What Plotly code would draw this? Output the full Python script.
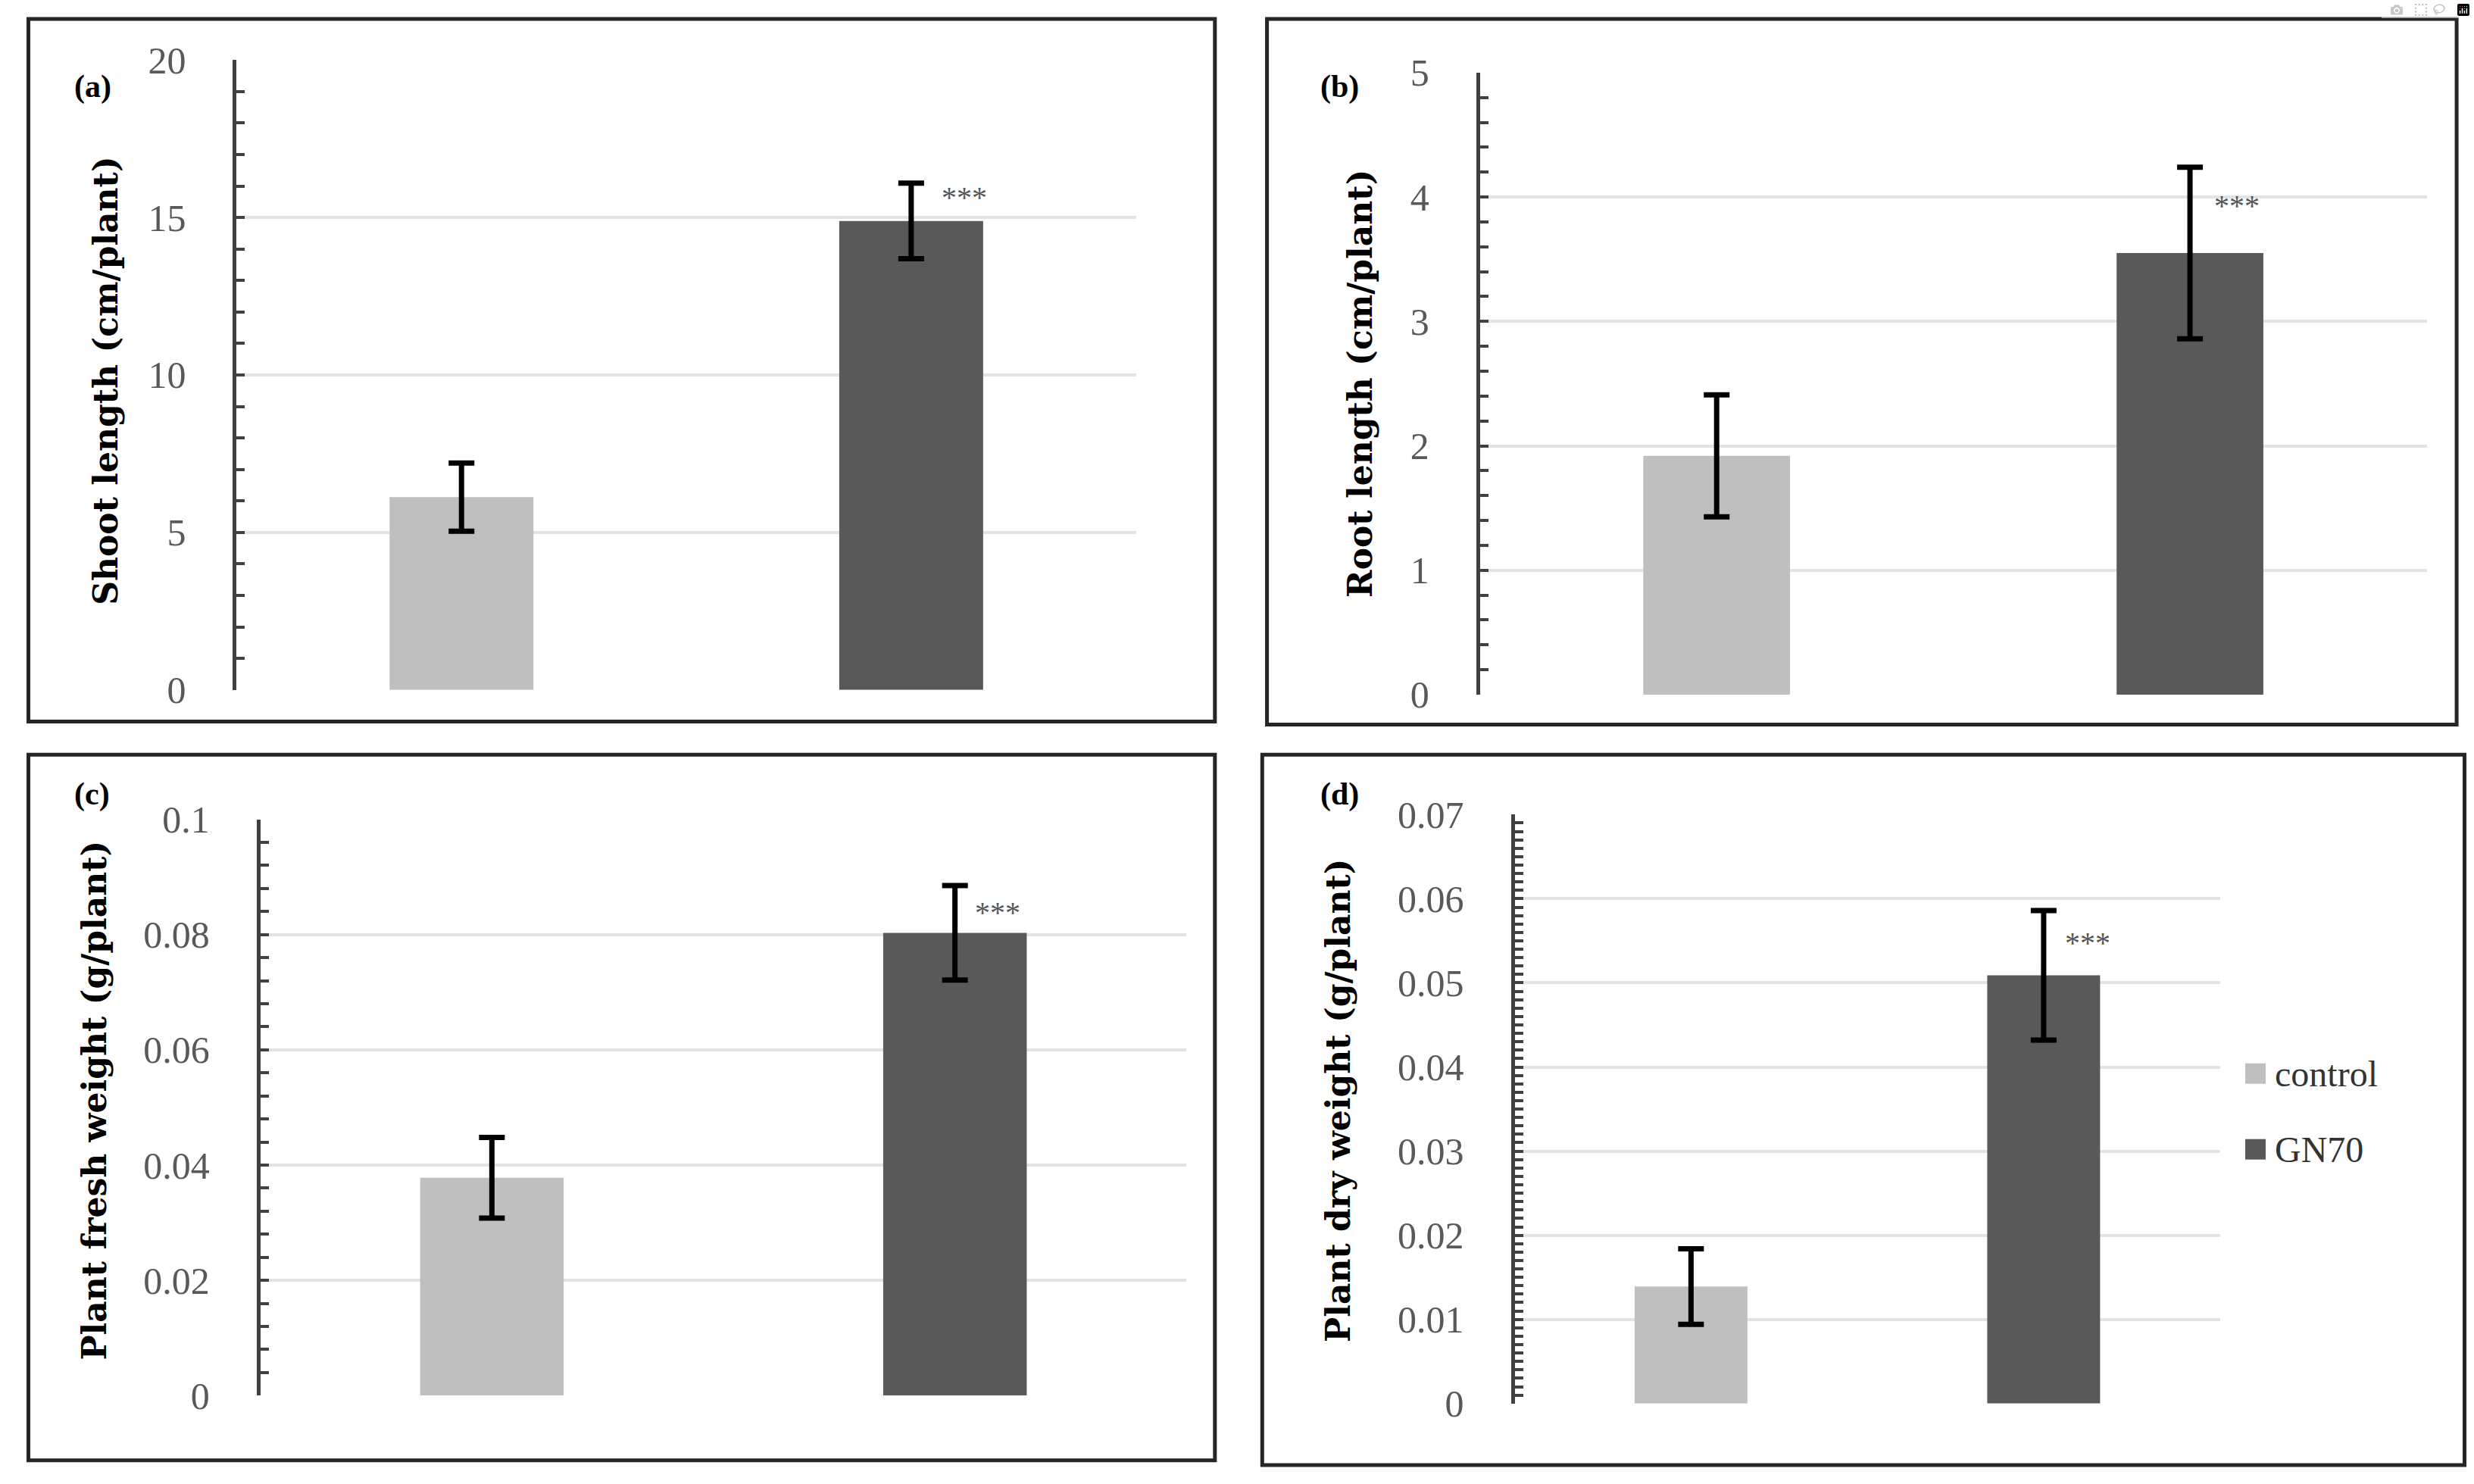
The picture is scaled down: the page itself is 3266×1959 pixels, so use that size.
import plotly.graph_objects as go

W, H = 3266, 1959

categories = ["control", "GN70"]
bar_colors = ["#bfbfbf", "#595959"]
sig_labels = ["", "***"]

shoot_mean = [6.12, 14.89]
shoot_err = [1.08, 1.2]
root_mean = [1.92, 3.55]
root_err = [0.49, 0.69]
fresh_mean = [0.0378, 0.0803]
fresh_err = [0.007, 0.0082]
dry_mean = [0.0139, 0.0509]
dry_err = [0.0045, 0.0077]

panel_letters = ["(a)", "(b)", "(c)", "(d)"]
y_titles = ["Shoot length (cm/plant)", "Root length (cm/plant)",
            "Plant fresh weight (g/plant)", "Plant dry weight (g/plant)"]
y_max = [20, 5, 0.1, 0.07]
y_dtick = [5, 1, 0.02, 0.01]
y_minor = [1, 0.2, 0.004, 0.001]
sig_y = [15.64, 3.93, 0.0838, 0.0548]

panels = [
    dict(mean=shoot_mean, err=shoot_err, xd=[150/1568, 720/1568], yd=[1-437/940, 1-38/940],
         box=[18/1568, 1-457/940, 770/1568, 1-12/940], lab=(46/1568, 1-55/940),
         tit=(67/1568, 1-241/940), bw=0.32, sig_shift=38),
    dict(mean=root_mean, err=root_err, xd=[938/1568, 1538/1568], yd=[1-440/940, 1-46/940],
         box=[803/1568, 1-459/940, 1557/1568, 1-12/940], lab=(836/1568, 1-55/940),
         tit=(862/1568, 1-243/940), bw=0.31, sig_shift=30),
    dict(mean=fresh_mean, err=fresh_err, xd=[165/1568, 752/1568], yd=[1-884/940, 1-519/940],
         box=[18/1568, 1-925/940, 770/1568, 1-478/940], lab=(46/1568, 1-503/940),
         tit=(60/1568, 1-697/940), bw=0.31, sig_shift=24),
    dict(mean=dry_mean, err=dry_err, xd=[960/1568, 1407/1568], yd=[1-889/940, 1-516/940],
         box=[800/1568, 1-928/940, 1562/1568, 1-478/940], lab=(836/1568, 1-503/940),
         tit=(848/1568, 1-697/940), bw=0.32, sig_shift=26),
]

fig = go.Figure()
serif = "Liberation Serif"
title_font = "DejaVu Serif"
annotations = []
shapes = []

for i, p in enumerate(panels):
    n = "" if i == 0 else str(i + 1)
    xa, ya = "x" + n, "y" + n
    for j, cat in enumerate(categories):
        fig.add_trace(go.Bar(
            x=[cat], y=[p["mean"][j]], width=p["bw"],
            marker=dict(color=bar_colors[j], line=dict(width=0)),
            error_y=dict(type="data", array=[p["err"][j]], color="black",
                         thickness=7, width=17),
            name=cat, showlegend=False, xaxis=xa, yaxis=ya))
        if sig_labels[j]:
            annotations.append(dict(
                x=cat, y=sig_y[i], xref=xa, yref=ya, text=sig_labels[j],
                showarrow=False, xanchor="left", yanchor="middle", xshift=p["sig_shift"],
                font=dict(family=serif, size=40, color="#555555")))
    fig.update_layout(**{
        "xaxis" + n: dict(domain=p["xd"], anchor=ya, type="category",
                          categoryarray=categories, range=[-0.5, 1.5],
                          showticklabels=False, ticks="", showline=False,
                          showgrid=False, zeroline=False, fixedrange=True,
                          automargin=False),
        "yaxis" + n: dict(domain=p["yd"], anchor=xa, range=[0, y_max[i]],
                          dtick=y_dtick[i], tick0=0, showline=True, linecolor="#404040",
                          linewidth=5, ticks="inside", ticklen=11, tickwidth=4,
                          tickcolor="#404040", ticklabelstandoff=52,
                          tickfont=dict(family=serif, size=50, color="#595959"),
                          showgrid=True, gridcolor="#e3e3e3", gridwidth=4,
                          zeroline=False, automargin=False,
                          minor=dict(dtick=y_minor[i], ticks="inside", ticklen=11,
                                     tickwidth=4, tickcolor="#404040", showgrid=False),
                          fixedrange=True),
    })
    annotations.append(dict(
        x=p["tit"][0], y=p["tit"][1], xref="paper", yref="paper", text="<b>%s</b>" % y_titles[i],
        textangle=-90, showarrow=False, xanchor="center", yanchor="middle",
        font=dict(family=title_font, size=44, color="black")))
    annotations.append(dict(
        x=p["lab"][0], y=p["lab"][1], xref="paper", yref="paper", text="<b>%s</b>" % panel_letters[i],
        showarrow=False, xanchor="left", yanchor="middle",
        font=dict(family=serif, size=42, color="black")))
    b = p["box"]
    shapes.append(dict(type="rect", xref="paper", yref="paper", x0=b[0], y0=b[1], x1=b[2], y1=b[3],
                       line=dict(color="#262626", width=5), fillcolor="rgba(0,0,0,0)", layer="above"))

# legend (manual, inside panel d)
leg_x = 1423/1568
leg_y = [1-680/940, 1-728/940]
sq_w = 27/W
sq_h = 27/H
for j, cat in enumerate(categories):
    shapes.append(dict(type="rect", xref="paper", yref="paper",
                       x0=leg_x, x1=leg_x+sq_w, y0=leg_y[j]-sq_h/2, y1=leg_y[j]+sq_h/2,
                       line=dict(width=0), fillcolor=bar_colors[j]))
    annotations.append(dict(x=leg_x+sq_w+10/W, y=leg_y[j], xref="paper", yref="paper",
                            text=cat, showarrow=False, xanchor="left", yanchor="middle",
                            font=dict(family=serif, size=48, color="#333333")))

fig.update_layout(
    template="none",
    width=W, height=H, margin=dict(l=0, r=0, t=0, b=0, pad=0, autoexpand=False),
    paper_bgcolor="white", plot_bgcolor="white",
    barmode="overlay", showlegend=False,
    annotations=annotations, shapes=shapes,
)

fig.write_html("out.html", post_script="document.body.style.margin='0';")
